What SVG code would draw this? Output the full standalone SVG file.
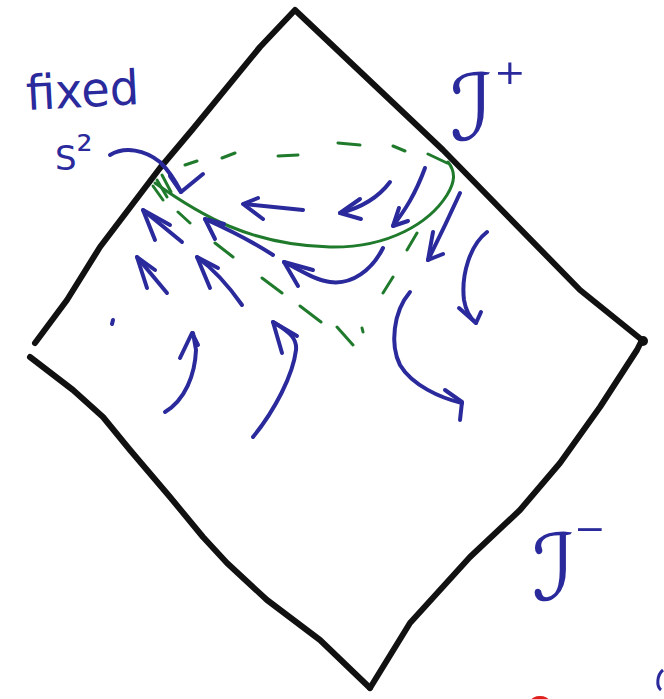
<svg xmlns="http://www.w3.org/2000/svg" width="664" height="699" viewBox="0 0 664 699">
<style>
.edge{fill:none;stroke:#111;stroke-width:6;stroke-linecap:round;stroke-linejoin:round}
.flow{fill:none;stroke:#2a2a9c;stroke-width:4;stroke-linecap:round;stroke-linejoin:round}
.head{fill:none;stroke:#2a2a9c;stroke-width:4;stroke-linecap:round;stroke-linejoin:round}
.sph{fill:none;stroke:#1f7a2c;stroke-width:3;stroke-linecap:round}
.lbl{fill:#2a2a9c;font-family:"DejaVu Sans","Liberation Sans",sans-serif}
</style>
<rect width="664" height="699" fill="#fff"/>
<g id="diamond">
<path class="edge" d="M35,343 L67,300 L100,247 L160,168 L192,130 L260,47 L295,10 L443,150 L580,290 L642,340"/>
<path class="edge" d="M641,342 L637,350 L600,407 L560,463 L520,510 L470,557 L410,623 L370,688"/>
<path class="edge" d="M30,357 L73,390 L103,417 L130,450 L170,497 L203,537 L227,563 L267,600 L320,640 L370,688"/>
<circle cx="643" cy="341" r="5" fill="#111"/>
</g>
<g id="sphere">
<path class="sph" d="M155,183 C200,215 250,245 330,247 C390,248 430,222 447,195 C455,182 456,172 448,162"/>
<path class="sph" d="M185,165 L197,161 M222,158 L235,153 M278,156 L298,155 M338,143 L360,145 M393,146 L405,151 M428,154 L447,163"/>
<path class="sph" d="M178,212 L190,223 M215,243 L233,257 M262,278 L282,293 M300,306 L321,322 M337,327 L353,345 M362,328 L363,332"/>
<path class="sph" d="M417,233 L407,250 M393,277 L383,293"/>
<path class="sph" d="M157,180 L167,197 M162,175 L171,192 M153,186 L163,200"/>
</g>
<g id="flows">
<path class="flow" d="M110,155 C125,146 145,150 160,162 C170,172 177,184 181,192"/>
<path class="head" d="M170,176 L181,192 L203,174"/>
<path class="flow" d="M303,210 L244,204"/>
<path class="head" d="M258,198 L243,204 L263,219"/>
<path class="flow" d="M390,182 C378,198 360,208 340,213"/>
<path class="head" d="M360,199 L340,213 L361,219"/>
<path class="flow" d="M425,168 C415,195 405,210 393,226"/>
<path class="head" d="M399,208 L393,226 L408,221"/>
<path class="flow" d="M460,193 C450,215 438,240 428,260"/>
<path class="head" d="M433,232 L428,260 L443,254"/>
<path class="flow" d="M487,232 C470,245 461,275 464,300 C466,312 470,318 476,323"/>
<path class="head" d="M459,308 L476,323 L481,312"/>
<path class="flow" d="M410,292 C393,312 390,345 400,365 C412,385 440,398 462,403"/>
<path class="head" d="M445,390 L462,402 L460,420"/>
<path class="flow" d="M383,248 C372,270 352,285 330,282 C315,280 300,270 284,262"/>
<path class="head" d="M313,270 L284,262 L298,286"/>
<path class="flow" d="M273,255 C250,240 225,228 205,219"/>
<path class="head" d="M215,239 L205,219 L224,224"/>
<path class="flow" d="M182,242 L143,210"/>
<path class="head" d="M155,240 L143,210 L170,225"/>
<path class="flow" d="M167,293 L137,257"/>
<path class="head" d="M147,288 L137,257 L155,270"/>
<path class="flow" d="M242,305 C228,285 212,268 197,257"/>
<path class="head" d="M210,288 L197,257 L218,268"/>
<path class="flow" d="M165,412 C185,400 195,375 196,350 L193,333"/>
<path class="head" d="M180,358 L192,333 L198,345"/>
<path class="flow" d="M253,437 C275,410 293,375 296,350 C297,340 292,333 273,322"/>
<path class="head" d="M282,353 L273,322 L297,336"/>
<path class="flow" d="M113,320 L112,324"/>
</g>
<g id="labels">
<text class="lbl" x="27" y="110" font-size="48" textLength="113" lengthAdjust="spacingAndGlyphs" transform="rotate(-3 27 110)">fixed</text>
<text class="lbl" x="55" y="170" font-size="34">S<tspan font-size="40" dy="-6">²</tspan></text>
<text class="lbl" x="450" y="140" font-size="92">ℐ<tspan x="494" y="104" font-size="60">⁺</tspan></text>
<text class="lbl" x="532" y="600" font-size="92">ℐ<tspan x="574" y="560" font-size="60">⁻</tspan></text>
</g>
<g id="marks">
<ellipse cx="540" cy="701" rx="9" ry="5" fill="#e0201c"/>
<path d="M663,670 C657,675 656,686 661,690" fill="none" stroke="#2a2a9c" stroke-width="3"/>
</g>
</svg>
